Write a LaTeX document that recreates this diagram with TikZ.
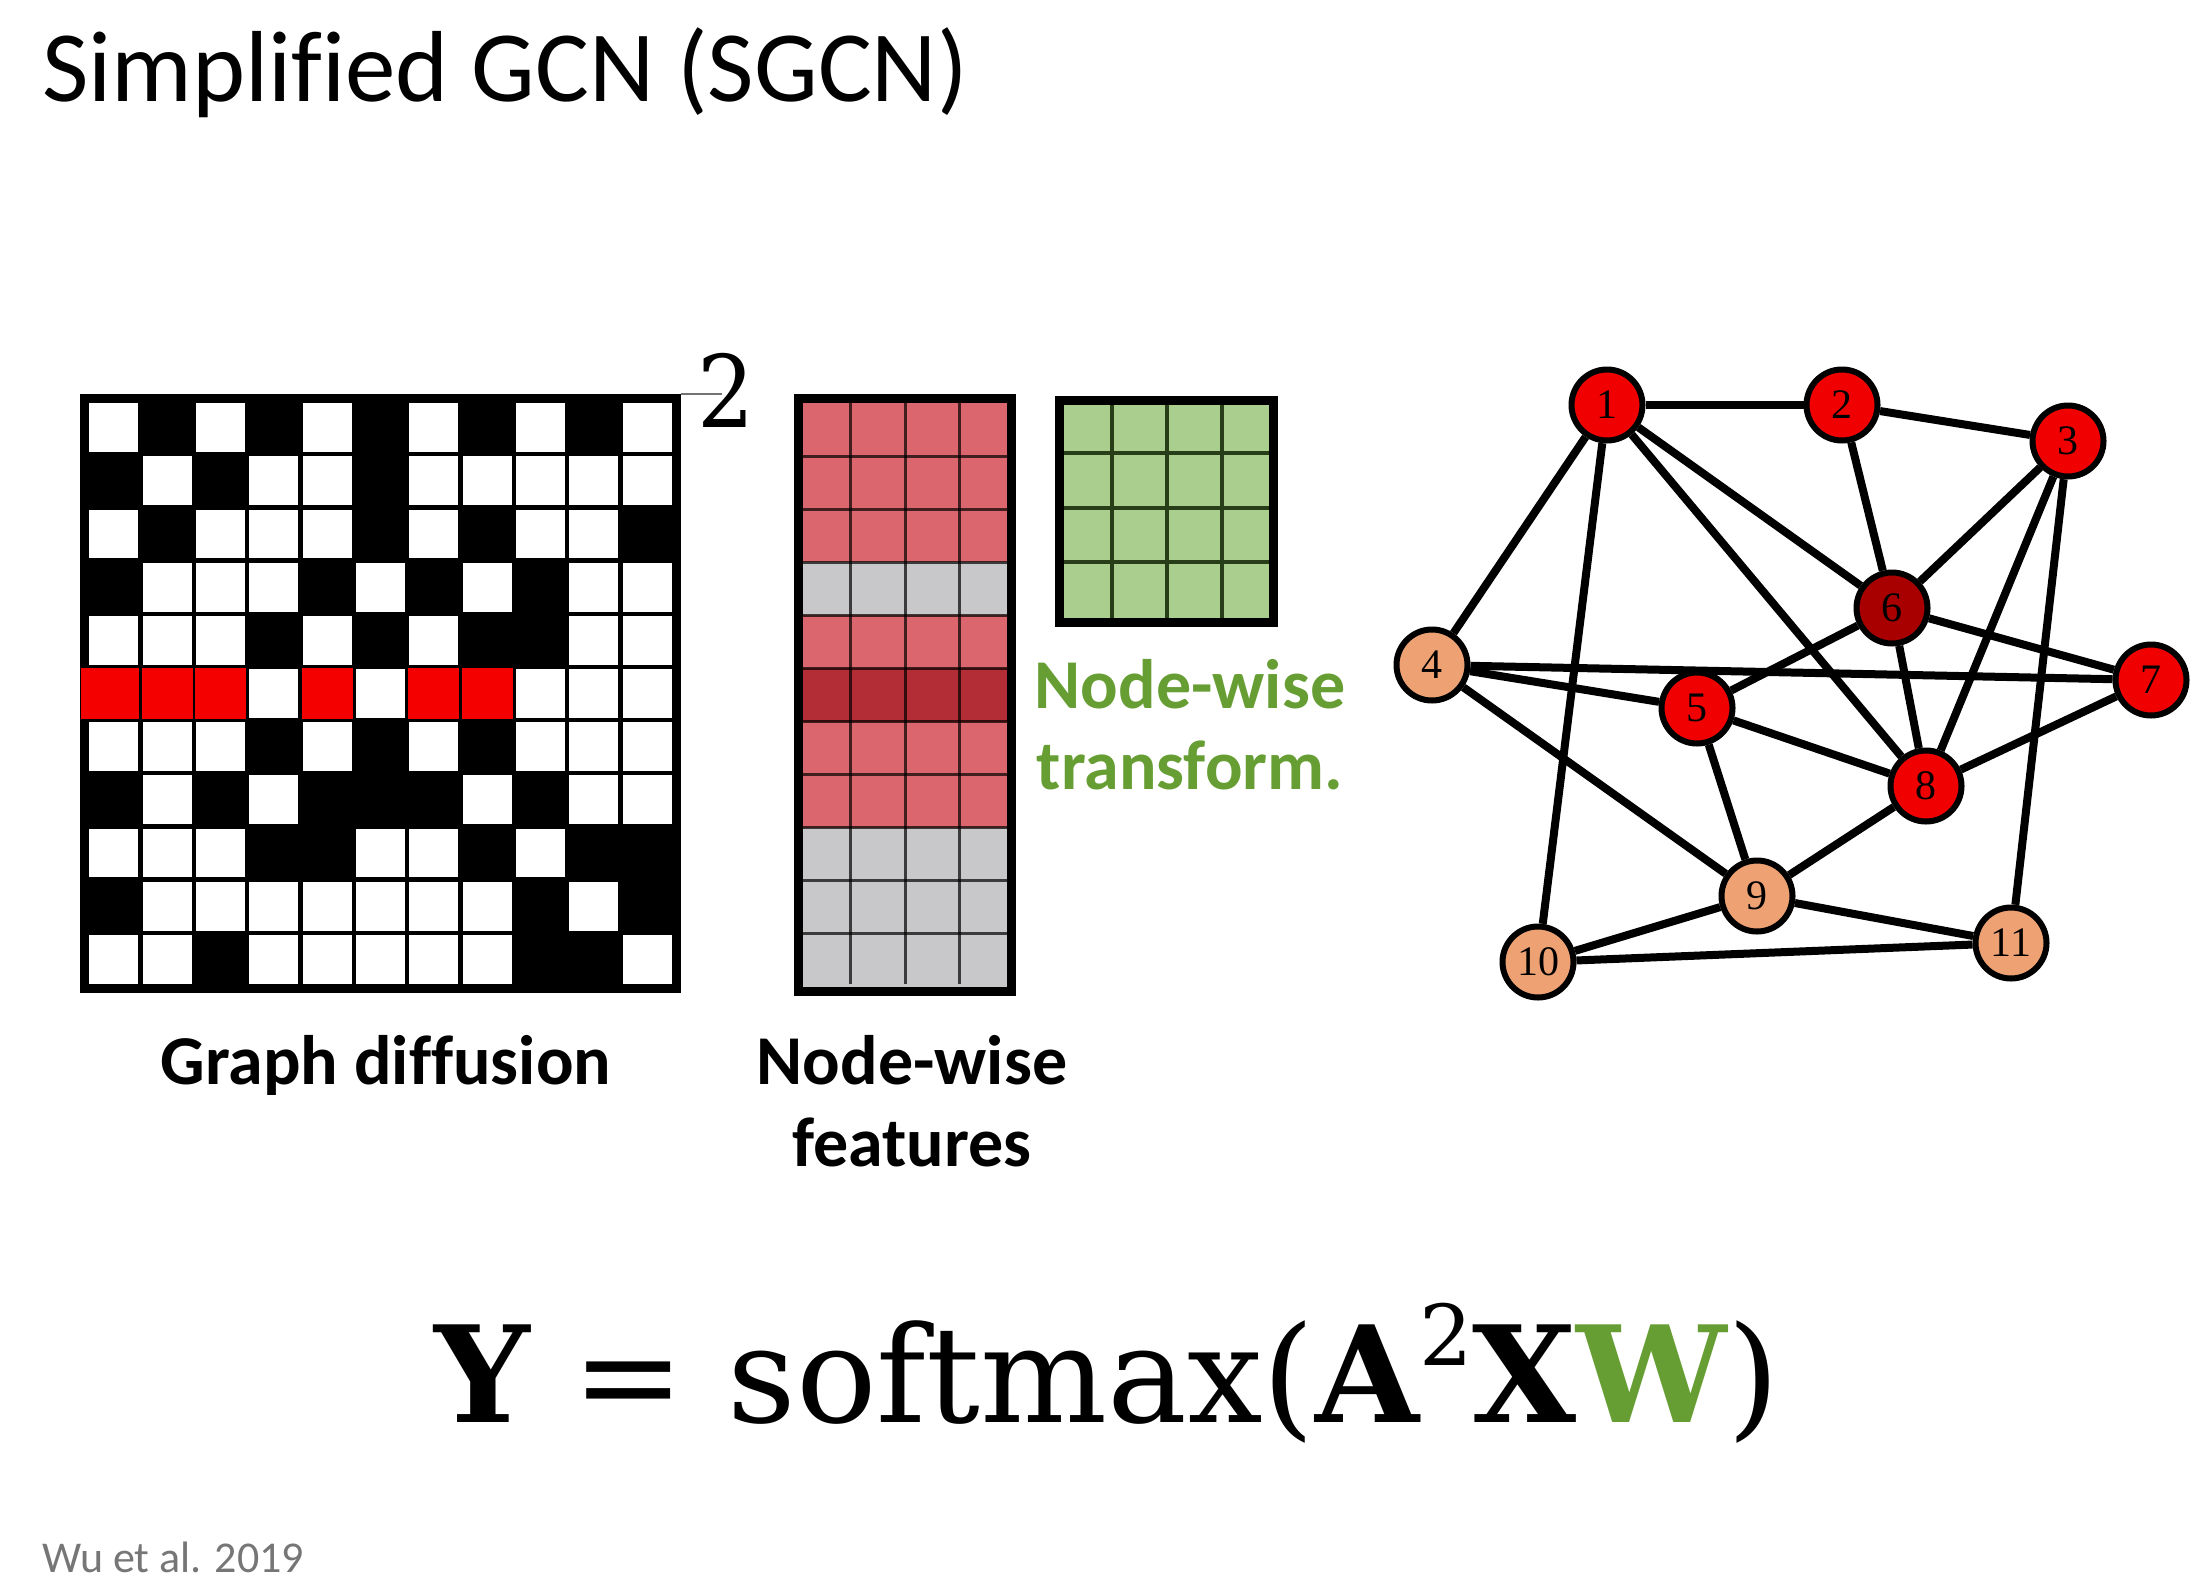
\documentclass[tikz,border=0pt]{standalone}
\usepackage{fontspec}
\setmainfont{Latin Modern Roman}
\newfontfamily\calfont[Ligatures=CommonOff]{Carlito}
\newfontfamily\numfont{Liberation Serif}
\newfontfamily\eqfont{DejaVu Serif}
\newfontfamily\eqcfont{DejaVu Serif Condensed}
\definecolor{tgreen}{RGB}{102,158,52}
\definecolor{fred}{RGB}{220,102,110}
\definecolor{fdred}{RGB}{178,45,53}
\definecolor{fgray}{RGB}{200,200,202}
\definecolor{wgreen}{RGB}{170,206,142}
\definecolor{wline}{RGB}{40,62,24}
\definecolor{nred}{RGB}{240,0,0}
\definecolor{ndred}{RGB}{168,0,0}
\definecolor{norange}{RGB}{238,162,116}
\definecolor{cite}{RGB}{118,118,118}
\definecolor{mred}{RGB}{245,0,0}
\tikzset{
  lab/.style={font=\calfont\bfseries\fontsize{70}{80}\selectfont, inner sep=0pt, anchor=base},
  gnode/.style={circle, draw=black, line width=6pt, minimum size=71pt, inner sep=0pt, font=\numfont\fontsize{42}{42}\selectfont},
  rn/.style={gnode, fill=nred},
  dn/.style={gnode, fill=ndred},
  on/.style={gnode, fill=norange},
  gedge/.style={line width=8pt, black},
}
\begin{document}
\begin{tikzpicture}[x=1pt,y=-1pt]
\useasboundingbox (0,0) rectangle (2208,1582);
% title
\node[font=\calfont\fontsize{101}{110}\selectfont, anchor=base west, inner sep=0pt] (title) at (42,101) {Simplified GCN (SGCN)};
% adjacency matrix
\fill[black] (80,394) rectangle (681,993);
\def\mx{87}\def\my{401}\def\cw{53.36}\def\ch{53.18}
\foreach \row [count=\r from 0] in {
 {0,1,0,1,0,1,0,1,0,1,0},
 {1,0,1,0,0,1,0,0,0,0,0},
 {0,1,0,0,0,1,0,1,0,0,1},
 {1,0,0,0,1,0,1,0,1,0,0},
 {0,0,0,1,0,1,0,1,1,0,0},
 {2,2,2,0,2,0,2,2,0,0,0},
 {0,0,0,1,0,1,0,1,0,0,0},
 {1,0,1,0,1,1,1,0,1,0,0},
 {0,0,0,1,1,0,0,1,0,1,1},
 {1,0,0,0,0,0,0,0,1,0,1},
 {0,0,1,0,0,0,0,0,1,1,0}}{
  \foreach \v [count=\k from 0] in \row {
    \ifnum\v=0
      \fill[white] (\mx+\k*\cw+2.2,\my+\r*\ch+2.2) rectangle (\mx+\k*\cw+\cw-2.2,\my+\r*\ch+\ch-2.2);
    \fi
    \ifnum\v=2
      \fill[mred] (\mx+\k*\cw+1.2,\my+\r*\ch+1.2) rectangle (\mx+\k*\cw+\cw-1.2,\my+\r*\ch+\ch-1.2);
    \fi
  }
}
\fill[mred] (81,\my+5*\ch+1.2) rectangle (\mx+2,\my+6*\ch-1.2);
\coordinate (mtr) at (681,394);
\node[font=\eqcfont\fontsize{100}{100}\selectfont, anchor=base, inner sep=0pt] (sq) at (726,427) {2};
\draw[black!55, line width=1.2pt] (mtr) -- (722,394);
% feature matrix
\fill[black] (794,394) rectangle (1016,996);
\foreach \c [count=\r from 0] in {fred,fred,fred,fgray,fred,fdred,fred,fred,fgray,fgray,fgray}{
  \fill[\c] (803,403+\r*53.09) rectangle (1007,403+\r*53.09+53.09);
}
\foreach \r in {1,...,10}{
  \draw[black, opacity=0.7, line width=3pt] (803,403+\r*53.09) -- (1007,403+\r*53.09);
}
\foreach \xx in {850,905,959}{
  \draw[black, opacity=0.7, line width=3pt] (\xx,403) -- (\xx,984);
}
% weight matrix
\fill[black] (1055,396) rectangle (1278,627);
\fill[wgreen] (1064,405) rectangle (1269,618);
\foreach \xx in {1112,1167,1222}{
  \draw[wline, line width=3.5pt] (\xx,405) -- (\xx,618);
}
\foreach \yy in {453,508,562}{
  \draw[wline, line width=3.5pt] (1064,\yy) -- (1269,\yy);
}
% labels
\node[lab] (gd) at (386,1084) {Graph diffusion};
\node[lab] (nf1) at (912,1084) {Node-wise};
\node[lab] (nf2) at (912,1166) {features};
\node[lab, text=tgreen] (nt1) at (1190,708) {Node-wise};
\node[lab, text=tgreen] (nt2) at (1190,789) {transform.};
% graph
\node[rn] (n1) at (1607,405) {1};
\node[rn] (n2) at (1842,405) {2};
\node[rn] (n3) at (2068,441) {3};
\node[on] (n4) at (1432,665) {4};
\node[rn] (n5) at (1697,708) {5};
\node[dn] (n6) at (1892,608) {6};
\node[rn] (n7) at (2151,680) {7};
\node[rn] (n8) at (1926,786) {8};
\node[on] (n9) at (1757,896) {9};
\node[on] (n10) at (1538,962) {10};
\node[on] (n11) at (2011,943) {11};
\foreach \a/\b in {n1/n2,n1/n4,n1/n6,n1/n8,n1/n10,n2/n3,n2/n6,n3/n6,n3/n8,n3/n11,n4/n5,n4/n7,n4/n9,n5/n6,n5/n8,n5/n9,n6/n7,n6/n8,n7/n8,n8/n9,n9/n10,n9/n11,n10/n11}{
  \draw[gedge] (\a) -- (\b);
}
% formula
\node[font=\eqfont\fontsize{134}{146}\selectfont, anchor=base, inner sep=0pt] (eq) at (1107,1422) {{\bfseries Y} = softmax({\bfseries A}\raisebox{0.42em}{\fontsize{84}{84}\selectfont 2}{\bfseries X}\textcolor{tgreen}{\bfseries W})};
% citation
\node[font=\calfont\fontsize{44}{48}\selectfont, text=cite, anchor=base west, inner sep=0pt] (cit) at (42,1572) {Wu et al. 2019};
\end{tikzpicture}
\end{document}
